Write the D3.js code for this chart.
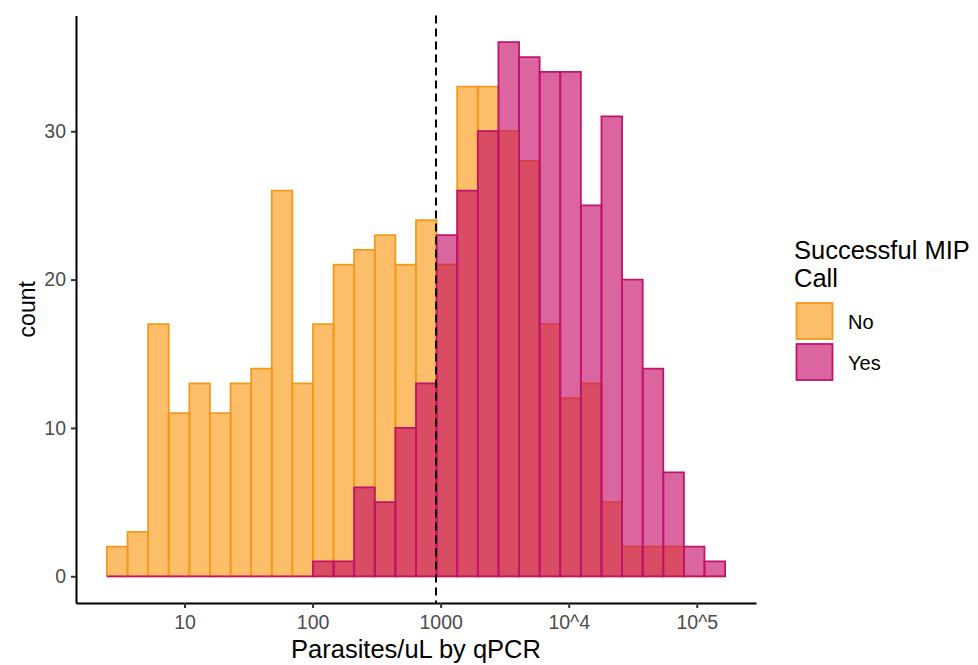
<!DOCTYPE html>
<html>
<head>
<meta charset="utf-8">
<script src="https://cdn.jsdelivr.net/npm/d3@7"></script>
<style>
  body { margin: 0; background: #fff; }
  svg { display: block; font-family: "Liberation Sans", Arial, sans-serif; }
</style>
</head>
<body>
<div id="chart"></div>
<script>
// histogram counts per bin (30 bins, log10 spaced)
var countsNo  = [2,3,17,11,13,11,13,14,26,13,17,21,22,23,21,24,21,33,33,30,28,17,12,13,5,2,2,2,0,0];
var countsYes = [0,0,0,0,0,0,0,0,0,0,1,1,6,5,10,13,23,26,30,36,35,34,34,25,31,20,14,7,2,1];
var groups = ["No", "Yes"];
var xTicks = [10, 100, 1000, 1e4, 1e5];
var xTickLabels = ["10", "100", "1000", "10^4", "10^5"];
var yTicks = [0, 10, 20, 30];
var cutoff = 920;          // dashed reference line
var logMin = 0.394, logStep = 0.1609;   // histogram bin layout (log10 units)

var W = 978, H = 665;
var plot = {left: 76, right: 756, top: 15.5, bottom: 603};

var svg = d3.select("#chart").append("svg")
    .attr("width", W).attr("height", H);

var logMax = logMin + logStep * countsNo.length;
var pad = (logMax - logMin) * 0.05;
var x = d3.scaleLog()
    .domain([Math.pow(10, logMin - pad), Math.pow(10, logMax + pad)])
    .range([plot.left, plot.right]);
var ymax = d3.max(countsNo.concat(countsYes));
var y = d3.scaleLinear()
    .domain([-ymax * 0.05, ymax * 1.05])
    .range([plot.bottom, plot.top]);

function bins(counts, group) {
    return counts.map(function(c, i) {
        return {
            x0: Math.pow(10, logMin + i * logStep),
            x1: Math.pow(10, logMin + (i + 1) * logStep),
            n: c, group: group
        };
    });
}

var fills = {No: "#FC9307", Yes: "#C3005F"};
var strokes = {No: "#F39A1E", Yes: "#C0136B"};

// bars as paths so empty bins still show their outline on the baseline
[["No", countsNo], ["Yes", countsYes]].forEach(function(g) {
    svg.append("g").selectAll("path")
        .data(bins(g[1], g[0]))
        .enter()
        .append("path")
        .attr("d", function(d) {
            return "M" + x(d.x0) + "," + y(0) + "V" + y(d.n) +
                "H" + x(d.x1) + "V" + y(0) + "Z";
        })
        .attr("fill", fills[g[0]])
        .attr("fill-opacity", 0.6)
        .attr("stroke", strokes[g[0]])
        .attr("stroke-width", 1.8);
});

// cutoff line
svg.append("line")
    .attr("x1", x(cutoff)).attr("x2", x(cutoff))
    .attr("y1", plot.top).attr("y2", plot.bottom)
    .attr("stroke", "#000")
    .attr("stroke-width", 2)
    .attr("stroke-dasharray", "8,5");

// axes
var xAxis = svg.append("g")
    .attr("transform", "translate(0," + plot.bottom + ")")
    .call(d3.axisBottom(x).tickValues(xTicks)
        .tickFormat(function(d, i) { return xTickLabels[i]; })
        .tickSize(5).tickPadding(5).tickSizeOuter(0));
var yAxis = svg.append("g")
    .attr("transform", "translate(" + plot.left + ",0)")
    .call(d3.axisLeft(y).tickValues(yTicks)
        .tickSize(5).tickPadding(5).tickSizeOuter(0));

[xAxis, yAxis].forEach(function(a) {
    a.select(".domain").attr("stroke", "#000").attr("stroke-width", 2);
    a.selectAll(".tick line").attr("stroke", "#333").attr("stroke-width", 2);
    a.selectAll(".tick text")
        .attr("fill", "#4D4D4D")
        .attr("font-size", "19.5px")
        .attr("font-family", "Liberation Sans, Arial, sans-serif");
});
xAxis.selectAll(".tick text").attr("dy", "0.8em");

svg.append("text")
    .text("Parasites/uL by qPCR")
    .attr("x", (plot.left + plot.right) / 2)
    .attr("y", 658)
    .attr("text-anchor", "middle")
    .attr("font-size", "25.5px");
svg.append("text")
    .text("count")
    .attr("transform", "translate(35," + (plot.top + plot.bottom) / 2 + ") rotate(-90)")
    .attr("text-anchor", "middle")
    .attr("font-size", "23px");

// legend
var legend = svg.append("g").attr("transform", "translate(794,0)");
legend.append("text").text("Successful MIP")
    .attr("x", 0).attr("y", 259).attr("font-size", "25.5px");
legend.append("text").text("Call")
    .attr("x", 0).attr("y", 287).attr("font-size", "25.5px");
groups.forEach(function(g, i) {
    legend.append("rect")
        .attr("x", 2.5).attr("y", 303 + i * 41)
        .attr("width", 36).attr("height", 36)
        .attr("fill", fills[g]).attr("fill-opacity", 0.6)
        .attr("stroke", strokes[g]).attr("stroke-width", 1.8);
    legend.append("text").text(g)
        .attr("x", 54).attr("y", 329 + i * 41)
        .attr("font-size", "20px");
});
</script>
</body>
</html>
